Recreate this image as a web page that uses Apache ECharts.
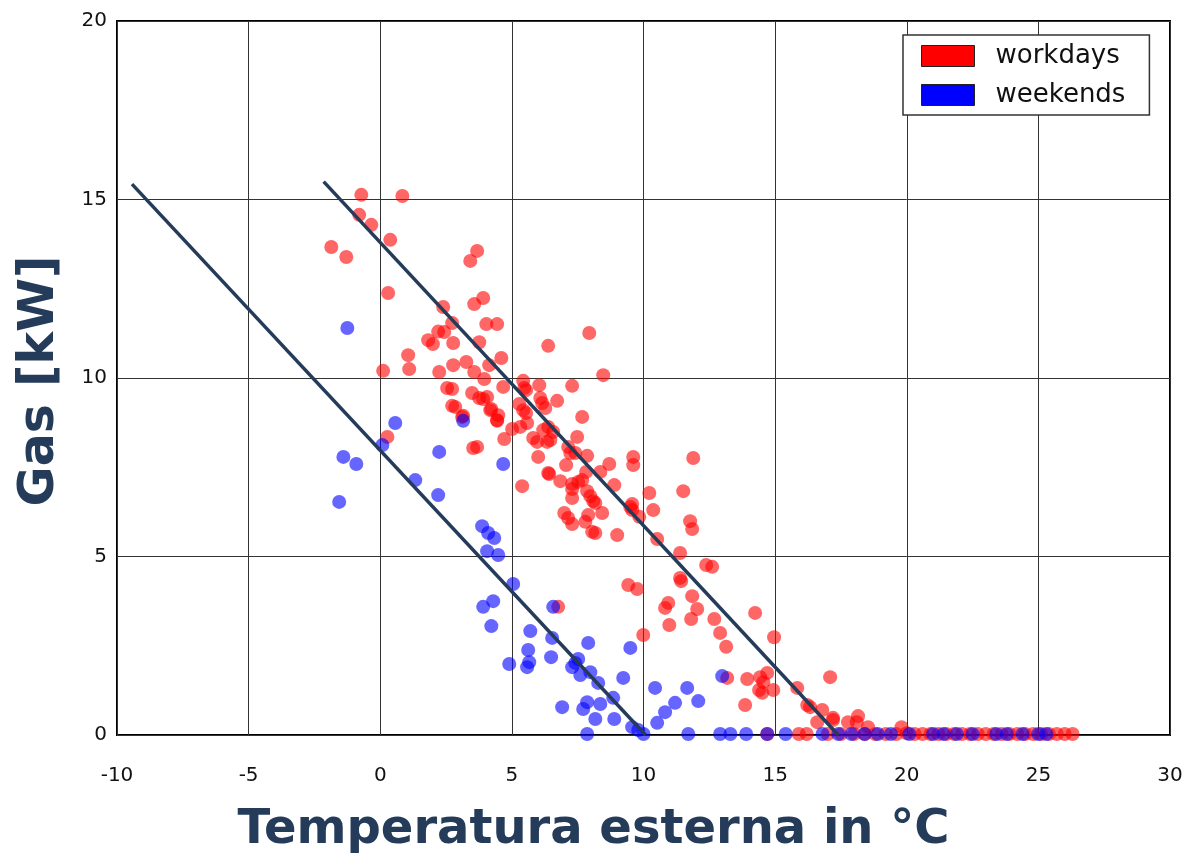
<!DOCTYPE html>
<html>
<head>
<meta charset="utf-8">
<script src="https://cdn.jsdelivr.net/npm/echarts@6/dist/echarts.min.js"></script>
<style>html,body{margin:0;padding:0;background:#fff}#c{width:1187px;height:855px}</style>
</head>
<body>
<div id="c"></div>
<script>
// Data
const workdays = [[-0.72,15.13],[0.84,15.1],[-0.8,14.57],[-0.34,14.29],[0.38,13.87],[-1.86,13.67],[-1.29,13.39],[3.68,13.56],[3.42,13.28],[0.3,12.38],[3.91,12.24],[3.57,12.07],[2.39,11.99],[2.73,11.54],[4.03,11.51],[4.44,11.51],[6.38,10.9],[2.2,11.3],[2.43,11.29],[1.82,11.06],[2.0,10.95],[2.77,10.98],[3.76,11.0],[1.06,10.64],[4.6,10.56],[1.1,10.25],[0.11,10.2],[2.77,10.36],[3.27,10.45],[2.24,10.17],[3.57,10.17],[4.14,10.36],[3.95,9.97],[4.67,9.75],[2.54,9.72],[2.73,9.69],[5.43,9.92],[5.47,9.72],[5.54,9.66],[6.04,9.8],[6.08,9.44],[6.15,9.3],[3.49,9.58],[3.76,9.44],[3.91,9.41],[4.06,9.47],[4.22,9.13],[2.73,9.22],[2.85,9.19],[3.15,8.94],[5.28,9.27],[5.43,9.1],[5.54,9.02],[4.48,8.96],[6.27,9.16],[3.11,8.91],[0.27,8.35],[3.53,8.04],[3.68,8.07],[4.71,8.29],[5.39,6.97],[6.0,7.79],[6.38,7.34],[5.01,8.57],[5.32,8.63],[5.58,8.74],[5.81,8.32],[5.96,8.21],[6.34,8.21],[6.19,8.54],[6.38,8.63],[7.94,11.26],[8.47,10.08],[7.29,9.78],[6.72,9.36],[7.67,8.91],[4.44,8.82],[6.57,8.49],[6.46,8.26],[7.48,8.35],[7.14,8.07],[7.22,7.9],[7.41,7.9],[7.86,7.82],[9.61,7.79],[9.61,7.56],[11.89,7.76],[7.06,7.56],[8.7,7.59],[8.36,7.37],[7.82,7.37],[7.67,7.14],[7.52,7.09],[6.42,7.31],[6.84,7.11],[7.29,7.03],[7.29,6.89],[8.89,7.0],[7.86,6.83],[7.98,6.69],[8.09,6.55],[8.17,6.5],[7.29,6.64],[10.22,6.78],[11.51,6.83],[9.57,6.47],[9.57,6.3],[10.37,6.3],[9.84,6.11],[8.43,6.22],[6.99,6.22],[7.14,6.08],[7.29,5.91],[7.9,6.16],[7.79,5.97],[8.05,5.69],[8.17,5.66],[9.0,5.6],[10.52,5.49],[11.77,5.99],[11.85,5.77],[11.39,5.1],[11.39,4.4],[9.5,6.39],[12.38,4.76],[12.61,4.71],[9.42,4.2],[9.76,4.09],[11.43,4.31],[11.85,3.89],[10.82,3.56],[10.94,3.7],[12.04,3.53],[10.98,3.08],[11.81,3.25],[12.69,3.25],[14.24,3.42],[12.91,2.86],[13.14,2.47],[9.99,2.8],[14.96,2.74],[6.76,3.59],[13.18,1.6],[13.94,1.57],[14.43,1.62],[14.7,1.74],[14.55,1.48],[14.39,1.26],[14.51,1.18],[14.93,1.26],[13.86,0.84],[15.84,1.32],[17.09,1.62],[16.22,0.84],[16.33,0.78],[16.79,0.7],[17.2,0.42],[16.6,0.36],[17.77,0.36],[17.2,0.48],[18.1,0.36],[18.15,0.53],[18.53,0.22],[19.8,0.22],[4.18,9.1],[4.44,8.8],
[14.7,0.03],[15.9,0.03],[16.2,0.03],[17.0,0.03],[17.5,0.03],[18.0,0.03],[18.4,0.03],[18.8,0.03],[19.2,0.03],[19.6,0.03],[20.0,0.05],[20.3,0.03],[20.6,0.03],[20.9,0.03],[21.2,0.03],[21.5,0.03],[21.8,0.03],[22.1,0.03],[22.4,0.03],[22.7,0.03],[23.0,0.03],[23.3,0.03],[23.6,0.03],[23.9,0.03],[24.2,0.03],[24.5,0.03],[24.8,0.03],[25.1,0.03],[25.4,0.03],[25.7,0.03],[26.0,0.03],[26.3,0.03]];

const weekends = [[-1.25,11.4],[0.57,8.74],[0.08,8.12],[-1.4,7.79],[-0.91,7.59],[-1.56,6.53],[2.24,7.93],[4.67,7.59],[1.33,7.14],[2.2,6.72],[3.87,5.85],[4.1,5.66],[4.33,5.52],[4.06,5.15],[4.48,5.04],[5.05,4.23],[4.29,3.75],[3.91,3.59],[4.22,3.05],[3.15,8.8],[6.57,3.59],[5.7,2.91],[6.53,2.72],[5.62,2.38],[5.66,2.04],[5.58,1.9],[4.9,1.99],[6.49,2.18],[7.9,2.58],[9.5,2.44],[7.52,2.13],[7.29,1.9],[7.41,2.02],[7.6,1.68],[7.98,1.76],[8.28,1.46],[9.23,1.6],[8.85,1.04],[6.91,0.78],[7.86,0.92],[7.71,0.73],[8.36,0.87],[8.17,0.45],[8.89,0.45],[9.57,0.22],[9.8,0.14],[10.44,1.32],[11.66,1.32],[11.2,0.9],[10.82,0.64],[10.52,0.34],[12.08,0.95],[12.99,1.65],
[7.86,0.03],[10.0,0.03],[11.7,0.03],[12.91,0.03],[13.3,0.03],[13.9,0.03],[14.7,0.03],[15.4,0.03],[16.8,0.03],[17.4,0.03],[17.9,0.03],[18.4,0.03],[18.9,0.03],[19.4,0.03],[20.1,0.03],[21.0,0.03],[21.4,0.03],[21.9,0.03],[22.5,0.03],[23.4,0.03],[23.8,0.03],[24.4,0.03],[25.0,0.03],[25.3,0.03]];

const workdaysFit = [[-2.15,15.5],[17.4,0]];
const weekendsFit = [[-9.43,15.43],[10.08,0]];

const xTicks = {min:-10, max:30, interval:5};
const yTicks = {min:0, max:20, interval:5};

const chart = echarts.init(document.getElementById('c'), null, {renderer:'canvas'});
const lineColor = '#243b5a';
chart.setOption({
  animation:false,
  backgroundColor:'#ffffff',
  grid:{left:117, right:17, top:21, bottom:120, show:true, borderColor:'#000', borderWidth:2, backgroundColor:'transparent'},
  xAxis:{type:'value', min:xTicks.min, max:xTicks.max, interval:xTicks.interval,
    axisLine:{show:false}, axisTick:{show:false},
    splitLine:{show:true, lineStyle:{color:'#333', width:1}},
    axisLabel:{margin:31, fontSize:20, color:'#111', fontFamily:'DejaVu Sans'}},
  yAxis:{type:'value', min:yTicks.min, max:yTicks.max, interval:yTicks.interval,
    axisLine:{show:false}, axisTick:{show:false},
    splitLine:{show:true, lineStyle:{color:'#333', width:1}},
    axisLabel:{margin:10, fontSize:20, color:'#111', fontFamily:'DejaVu Sans'}},
  legend:{
    left:903, top:35, orient:'vertical', itemWidth:53, itemHeight:21, itemGap:13,
    padding:[8,24,7,18], borderColor:'#333', borderWidth:1.5, backgroundColor:'#fff',
    textStyle:{fontSize:26, color:'#111', fontFamily:'DejaVu Sans', padding:[0,0,0,16]},
    data:[
      {name:'workdays', icon:'rect', itemStyle:{color:'#ff0000', opacity:1, borderColor:'#222', borderWidth:1}},
      {name:'weekends', icon:'rect', itemStyle:{color:'#0000ff', opacity:1, borderColor:'#222', borderWidth:1}}
    ]
  },
  graphic:[
    {type:'text', left:'center', top:807, style:{text:'Temperatura esterna in °C', fontSize:48, fontWeight:'bold', fontFamily:'DejaVu Sans', fill:lineColor}},
    {type:'text', x:16, y:381, rotation:Math.PI/2, style:{text:'Gas [kW]', fontSize:49, fontWeight:'bold', fontFamily:'DejaVu Sans', fill:lineColor, align:'center', verticalAlign:'top'}}
  ],
  series:[
    {name:'workdays', type:'scatter', data:workdays, symbol:'circle', symbolSize:14, itemStyle:{color:'#ff0000', opacity:0.6}, z:2},
    {name:'weekends', type:'scatter', data:weekends, symbol:'circle', symbolSize:14, itemStyle:{color:'#0000ff', opacity:0.6}, z:3},
    {name:'fitW', type:'line', data:workdaysFit, symbol:'none', lineStyle:{color:lineColor, width:3.5}, z:4, silent:true},
    {name:'fitE', type:'line', data:weekendsFit, symbol:'none', lineStyle:{color:lineColor, width:3.5}, z:4, silent:true}
  ]
});
</script>
</body>
</html>
